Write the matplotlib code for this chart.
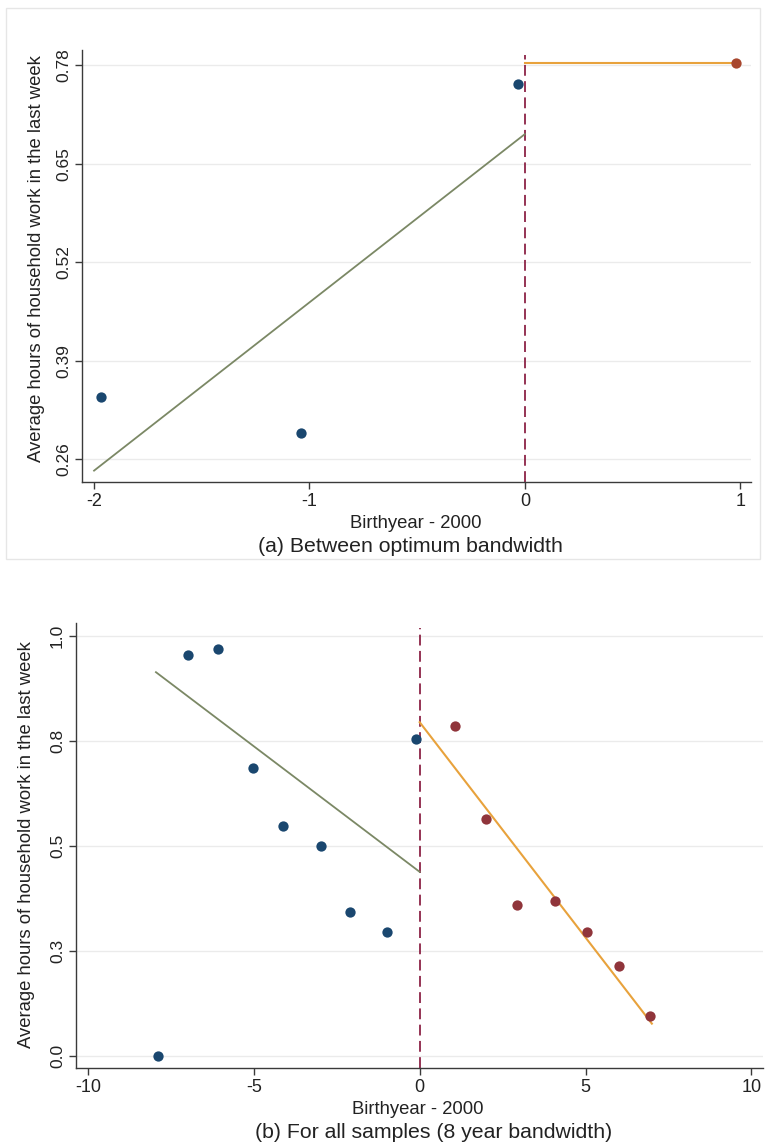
import matplotlib
matplotlib.use("Agg")
import matplotlib.pyplot as plt
from matplotlib.patches import Rectangle

plt.rcParams['font.family'] = ['Liberation Sans', 'DejaVu Sans']

# ---- Panel (a): between optimum bandwidth ----
a_below_x = [-1.97, -1.04, -0.03]
a_below_y = [0.342, 0.294, 0.755]
a_above_x = [0.98]
a_above_y = [0.783]
a_fit_below_x = [-2.0, 0.0]
a_fit_below_y = [0.245, 0.689]
a_fit_above_x = [0.0, 0.98]
a_fit_above_y = [0.783, 0.783]
a_xticks = [-2, -1, 0, 1]
a_yticks = [0.26, 0.39, 0.52, 0.65, 0.78]
a_yticklabels = ["0.26", "0.39", "0.52", "0.65", "0.78"]

# ---- Panel (b): all samples, 8 year bandwidth ----
b_below_x = [-7.9, -6.99, -6.08, -5.01, -4.12, -2.98, -2.09, -0.99, -0.11]
b_below_y = [0.0, 0.954, 0.968, 0.687, 0.548, 0.501, 0.343, 0.295, 0.754]
b_above_x = [1.06, 2.0, 2.94, 4.07, 5.05, 6.0, 6.94]
b_above_y = [0.785, 0.565, 0.359, 0.369, 0.2955, 0.214, 0.097]
b_fit_below_x = [-7.95, 0.0]
b_fit_below_y = [0.914, 0.439]
b_fit_above_x = [0.0, 7.0]
b_fit_above_y = [0.795, 0.078]
b_xticks = [-10, -5, 0, 5, 10]
b_yticks = [0.0, 0.25, 0.5, 0.75, 1.0]
b_yticklabels = ["0.0", "0.3", "0.5", "0.8", "1.0"]

ylabel_text = "Average hours of household work in the last week"
xlabel_text = "Birthyear - 2000"
title_a = "(a) Between optimum bandwidth"
title_b = "(b) For all samples (8 year bandwidth)"

NAVY = "#1a476f"
MAROON = "#90353b"
RUST = "#a8472e"
OLIVE = "#7b8865"
ORANGE = "#e8a23c"
CUTOFF = "#8c2346"
GRID = "#ebebeb"
AXIS = "#3a3a3a"
TEXT = "#222222"

W, H = 765, 1147
fig = plt.figure(figsize=(W / 100, H / 100), dpi=100)
fig.patch.set_facecolor("white")


def px_axes(left, top, right, bottom):
    return fig.add_axes([left / W, 1 - bottom / H, (right - left) / W, (bottom - top) / H])


def style(ax, xticks, yticks, yticklabels, xlim, ylim):
    ax.set_xlim(*xlim)
    ax.set_ylim(*ylim)
    ax.set_xticks(xticks)
    ax.set_xticklabels([str(t) for t in xticks], fontsize=13)
    ax.set_yticks(yticks)
    ax.set_yticklabels(yticklabels, fontsize=12.5, rotation=90, va="center")
    for s in ("top", "right"):
        ax.spines[s].set_visible(False)
    for s in ("left", "bottom"):
        ax.spines[s].set_color(AXIS)
        ax.spines[s].set_linewidth(1.0)
    ax.tick_params(axis="both", direction="out", length=5, width=1.0, color=AXIS,
                   labelcolor=TEXT)
    ax.tick_params(axis="y", pad=3)
    ax.tick_params(axis="x", pad=3)
    ax.grid(axis="y", color=GRID, linewidth=1.0)
    ax.set_axisbelow(True)


# faint frame around the upper graph region
fig.patches.append(Rectangle((6 / W, 1 - 559 / H), (760 - 6) / W, (559 - 8) / H,
                             transform=fig.transFigure, fill=False,
                             edgecolor="#e6e6e6", linewidth=1.0))

# ---------------- panel (a) ----------------
ax1 = px_axes(82, 50, 751, 482)
style(ax1, a_xticks, a_yticks, a_yticklabels, (-2.056, 1.05), (0.230, 0.800))
ax1.plot(a_fit_below_x, a_fit_below_y, color=OLIVE, linewidth=1.3, zorder=3)
ax1.plot(a_fit_above_x, a_fit_above_y, color=ORANGE, linewidth=1.5, zorder=3)
ax1.axvline(0, ymax=0.988, color=CUTOFF, linewidth=1.3, linestyle=(0, (6, 3)), zorder=2)
ax1.scatter(a_below_x, a_below_y, s=55, color=NAVY, zorder=4, linewidths=0)
ax1.scatter(a_above_x, a_above_y, s=55, color=RUST, zorder=4, linewidths=0)

fig.text(37 / W, 1 - 259 / H, ylabel_text, rotation=90, ha="center", va="center",
         fontsize=13.3, color=TEXT)
fig.text(416 / W, 1 - 523 / H, xlabel_text, ha="center", va="center",
         fontsize=13.3, color=TEXT)
fig.text(410 / W, 1 - 547 / H, title_a, ha="center", va="center",
         fontsize=15.3, color=TEXT)

# ---------------- panel (b) ----------------
ax2 = px_axes(76, 623, 763, 1068)
style(ax2, b_xticks, b_yticks, b_yticklabels, (-10.36, 10.35), (-0.0276, 1.031))
ax2.plot(b_fit_below_x, b_fit_below_y, color=OLIVE, linewidth=1.3, zorder=3)
ax2.plot(b_fit_above_x, b_fit_above_y, color=ORANGE, linewidth=1.5, zorder=3)
ax2.axvline(0, ymax=0.988, color=CUTOFF, linewidth=1.3, linestyle=(0, (6, 3)), zorder=2)
ax2.scatter(b_below_x, b_below_y, s=55, color=NAVY, zorder=4, linewidths=0)
ax2.scatter(b_above_x, b_above_y, s=55, color=MAROON, zorder=4, linewidths=0)

fig.text(27 / W, 1 - 845 / H, ylabel_text, rotation=90, ha="center", va="center",
         fontsize=13.3, color=TEXT)
fig.text(418 / W, 1 - 1110 / H, xlabel_text, ha="center", va="center",
         fontsize=13.3, color=TEXT)
fig.text(434 / W, 1 - 1133 / H, title_b, ha="center", va="center",
         fontsize=15.3, color=TEXT)

fig.savefig("out.png", dpi=100, facecolor="white")
